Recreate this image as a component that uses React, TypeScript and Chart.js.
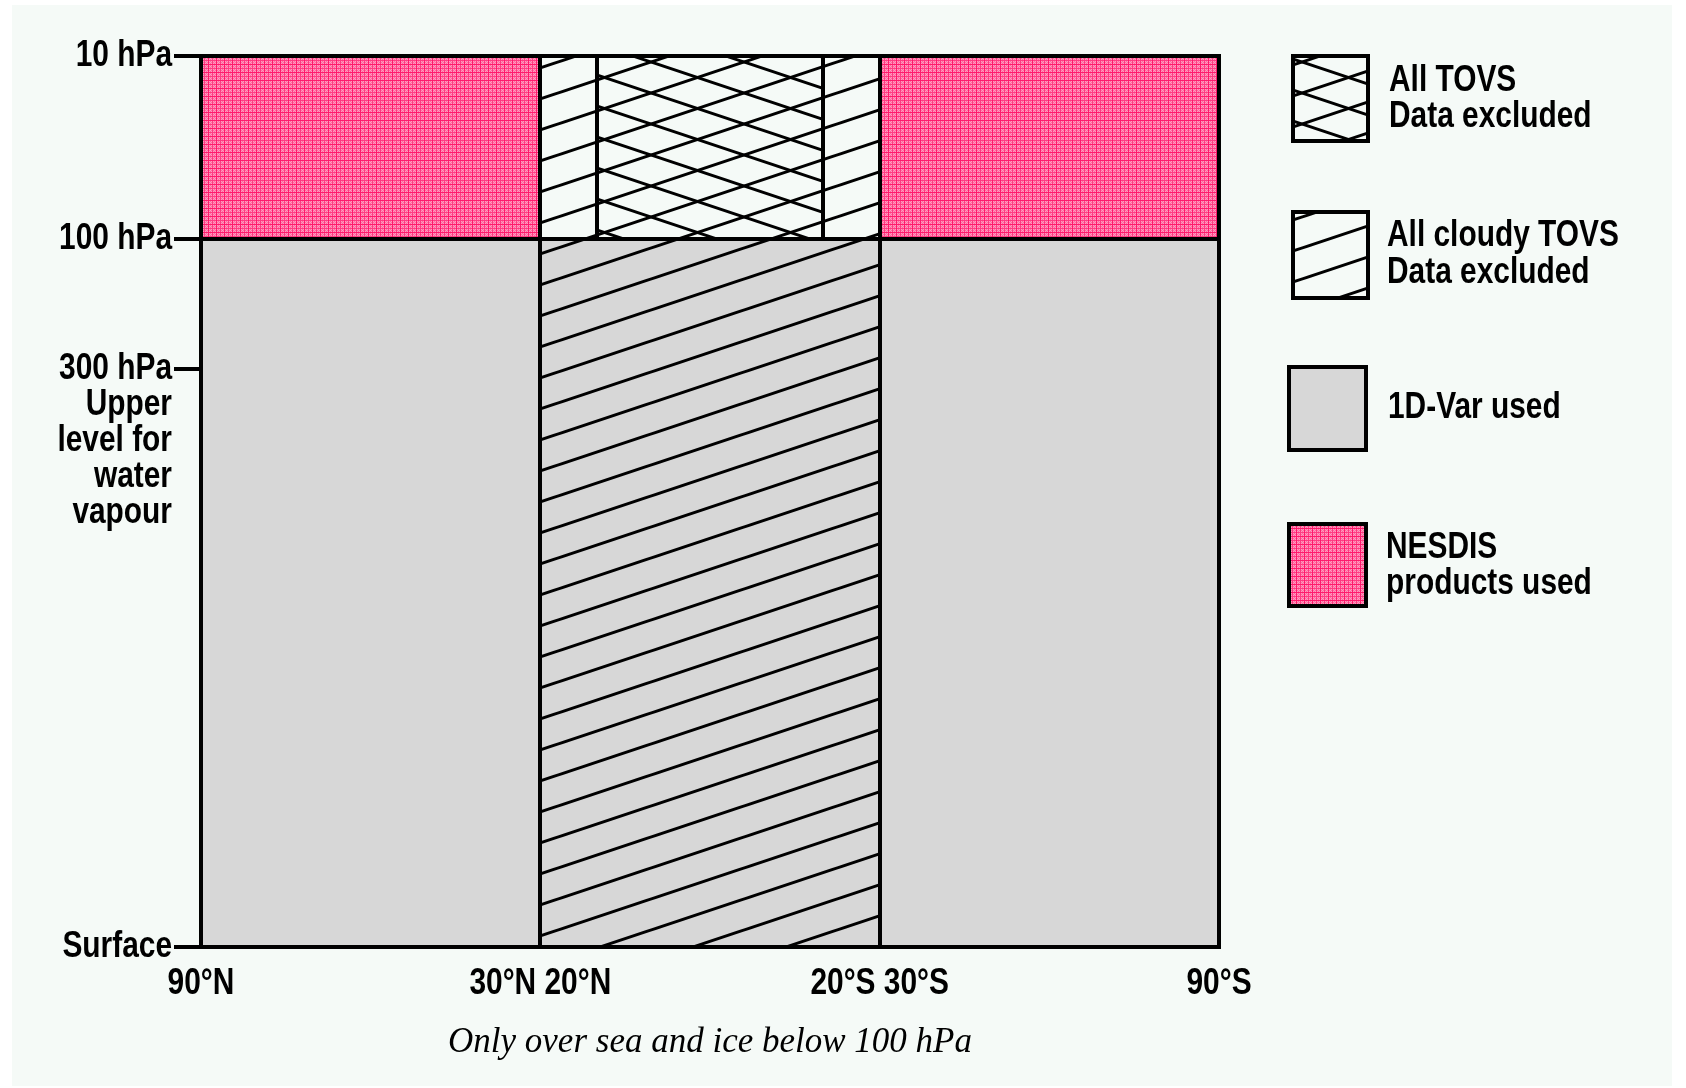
import React, { useEffect, useRef } from 'react';
import { Chart, registerables } from 'chart.js';

Chart.register(...registerables);

// ---- Data ----
const levelLabels = ['Surface', '300 hPa', '100 hPa', '10 hPa'];
// schematic (non-physical) vertical position of each pressure level in the diagram
const levelHeights = [0, 64.9, 79.5, 100];
const yTickLabels = [
  ['Surface'],
  ['300 hPa', 'Upper', 'level for', 'water', 'vapour'],
  ['100 hPa'],
  ['10 hPa'],
];

const xTickLats = [90, 30, -30, -90];
const xTickLabels = ['90°N', '30°N 20°N', '20°S 30°S', '90°S'];

const regionLatFrom = [90, 30, 20, -20, -30, 90, 30, -30];
const regionLatTo = [30, 20, -20, -30, -90, 30, -30, -90];
const regionTopLevel = ['10 hPa', '10 hPa', '10 hPa', '10 hPa', '10 hPa', '100 hPa', '100 hPa', '100 hPa'];
const regionBottomLevel = ['100 hPa', '100 hPa', '100 hPa', '100 hPa', '100 hPa', 'Surface', 'Surface', 'Surface'];
const regionKinds = ['nesdis', 'cloudy', 'all', 'cloudy', 'nesdis', 'var', 'varCloudy', 'var'];

const legendKinds = ['all', 'cloudy', 'var', 'nesdis'];
const legendLabels = [
  ['All TOVS', 'Data excluded'],
  ['All cloudy TOVS', 'Data excluded'],
  ['1D-Var used'],
  ['NESDIS', 'products used'],
];
const caption = 'Only over sea and ice below 100 hPa';

// ---- Styles ----
const BG = '#f5faf7';
const GREY = '#d7d7d7';
const SANS = '"Liberation Sans", Arimo, Arial, sans-serif';
const SERIF = '"Liberation Serif", "DejaVu Serif", serif';
const LABEL_FONT = `bold 36px ${SANS}`;
const SX = 0.83; // horizontal condensing of the label font

function levelValue(label: string) {
  return levelHeights[levelLabels.indexOf(label)];
}

function drawNarrowText(ctx: CanvasRenderingContext2D, text: string, x: number, y: number, align: CanvasTextAlign) {
  ctx.save();
  ctx.translate(x, y);
  ctx.scale(SX, 1);
  ctx.font = LABEL_FONT;
  ctx.fillStyle = '#000';
  ctx.textAlign = align;
  ctx.textBaseline = 'middle';
  ctx.fillText(text, 0, 0);
  ctx.restore();
}

function makeHatch(bg: string | null, cross: boolean): CanvasPattern {
  const w = 93, h = 31;
  const c = document.createElement('canvas');
  c.width = w; c.height = h;
  const g = c.getContext('2d')!;
  if (bg) { g.fillStyle = bg; g.fillRect(0, 0, w, h); }
  g.strokeStyle = '#000';
  g.lineWidth = 3;
  for (const k of [-1, 0, 1]) {
    g.beginPath(); g.moveTo(-1, h + k * h + 1 / 3); g.lineTo(w + 1, k * h - 1 / 3); g.stroke();
    if (cross) {
      g.beginPath(); g.moveTo(-1, k * h - 1 / 3); g.lineTo(w + 1, h + k * h + 1 / 3); g.stroke();
    }
  }
  return g.createPattern(c, 'repeat') as CanvasPattern;
}

function makePink(): CanvasPattern {
  const s = 8;
  const c = document.createElement('canvas');
  c.width = s; c.height = s;
  const g = c.getContext('2d')!;
  for (let y = 0; y < s; y++) {
    for (let x = 0; x < s; x++) {
      let col;
      if (x % 4 === 0 || y % 4 === 0) col = (x % 8 === 0 || y % 8 === 0) ? '#ff1a6c' : '#ff3d83';
      else col = (x + y) % 2 === 0 ? '#ff9cc0' : '#ff6a9f';
      g.fillStyle = col;
      g.fillRect(x, y, 1, 1);
    }
  }
  return g.createPattern(c, 'repeat') as CanvasPattern;
}

export default function App() {
  const ref = useRef<HTMLCanvasElement | null>(null);

  useEffect(() => {
    const canvas = ref.current;
    if (!canvas) return;

    const fills: Record<string, string | CanvasPattern> = {
      nesdis: makePink(),
      cloudy: makeHatch(BG, false),
      all: makeHatch(BG, true),
      var: GREY,
      varCloudy: makeHatch(GREY, false),
    };

    const regionPlugin = {
      id: 'regions',
      beforeDatasetsDraw(chart: any) {
        const { ctx, scales } = chart;
        const xs = scales.x, ys = scales.y;
        ctx.save();
        const rects: number[][] = [];
        for (let i = 0; i < regionKinds.length; i++) {
          const xa = xs.getPixelForValue(regionLatFrom[i]);
          const xb = xs.getPixelForValue(regionLatTo[i]);
          const ya = ys.getPixelForValue(levelValue(regionTopLevel[i]));
          const yb = ys.getPixelForValue(levelValue(regionBottomLevel[i]));
          const x0 = Math.round(Math.min(xa, xb)), x1 = Math.round(Math.max(xa, xb));
          const y0 = Math.round(Math.min(ya, yb)), y1 = Math.round(Math.max(ya, yb));
          ctx.fillStyle = fills[regionKinds[i]];
          ctx.fillRect(x0, y0, x1 - x0, y1 - y0);
          rects.push([x0, y0, x1, y1]);
        }
        ctx.strokeStyle = '#000';
        ctx.lineWidth = 4;
        for (const [x0, y0, x1, y1] of rects) {
          ctx.strokeRect(x0, y0, x1 - x0, y1 - y0);
        }
        ctx.restore();
      },
      afterDraw(chart: any) {
        const { ctx, scales } = chart;
        const xs = scales.x, ys = scales.y;
        // axis tick labels (narrow bold face), placed at the scales' tick pixels
        xs.ticks.forEach((t: any, i: number) => {
          const px = xs.getPixelForTick(i);
          const lbl = xTickLabels[i];
          drawNarrowText(ctx, lbl, px, 984, 'center');
        });
        ys.ticks.forEach((t: any, i: number) => {
          const py = ys.getPixelForTick(i);
          yTickLabels[i].forEach((line, j) => drawNarrowText(ctx, line, 172, py + j * 36, 'right'));
        });

        // legend
        ctx.save();
        const boxes = [
          [1293, 56, 1368, 141],
          [1293, 212, 1368, 298],
          [1289, 367, 1366, 450],
          [1289, 524, 1366, 606],
        ];
        const textX = [1389, 1387, 1388, 1386];
        const lineCenters = [[81, 117], [236, 273], [408], [548, 584]];
        for (let i = 0; i < legendKinds.length; i++) {
          const [x0, y0, x1, y1] = boxes[i];
          ctx.fillStyle = fills[legendKinds[i]];
          ctx.fillRect(x0, y0, x1 - x0, y1 - y0);
          ctx.strokeStyle = '#000';
          ctx.lineWidth = 4;
          ctx.strokeRect(x0, y0, x1 - x0, y1 - y0);
          legendLabels[i].forEach((t, j) => drawNarrowText(ctx, t, textX[i], lineCenters[i][j], 'left'));
        }
        ctx.restore();
      },
    };

    const chart = new Chart(canvas, {
      type: 'scatter',
      data: { datasets: [{ label: 'regions', data: [] }] },
      options: {
        animation: false,
        responsive: false,
        maintainAspectRatio: false,
        layout: { padding: { left: 0, top: 56, right: 467, bottom: 0 } },
        plugins: { legend: { display: false }, tooltip: { enabled: false } },
        scales: {
          x: {
            type: 'linear',
            min: -90,
            max: 90,
            reverse: true,
            afterBuildTicks: (s: any) => { s.ticks = xTickLats.map((v) => ({ value: v })); },
            afterFit: (s: any) => { s.height = 141; },
            ticks: {
              display: false,
              autoSkip: false,
              callback: (_v: any, i: number) => xTickLabels[i],
            },
            grid: { display: false, drawTicks: false },
            border: { display: false },
            title: {
              display: true,
              text: caption,
              color: '#000',
              font: { family: SERIF, size: 35, style: 'italic', lineHeight: 1.2 },
              padding: { top: 0, bottom: 24 },
            },
          },
          y: {
            type: 'linear',
            min: 0,
            max: 100,
            afterBuildTicks: (s: any) => { s.ticks = levelHeights.map((v) => ({ value: v })); },
            afterFit: (s: any) => { s.width = 201; },
            ticks: {
              display: false,
              autoSkip: false,
              callback: (_v: any, i: number) => yTickLabels[i],
            },
            grid: {
              drawOnChartArea: false,
              drawTicks: true,
              tickLength: 27,
              tickWidth: 4,
              tickColor: '#000',
              color: '#000',
              lineWidth: 4,
            },
            border: { display: false },
          },
        },
      } as any,
      plugins: [regionPlugin],
    });

    return () => chart.destroy();
  }, []);

  return (
    <div style={{ position: 'fixed', left: 0, top: 0, width: 1686, height: 1088, background: '#ffffff' }}>
      <div style={{ position: 'absolute', left: 12, top: 5, width: 1660, height: 1081, background: BG }} />
      <canvas ref={ref} width={1686} height={1088} style={{ position: 'absolute', left: 0, top: 0, width: 1686, height: 1088 }} />
    </div>
  );
}
